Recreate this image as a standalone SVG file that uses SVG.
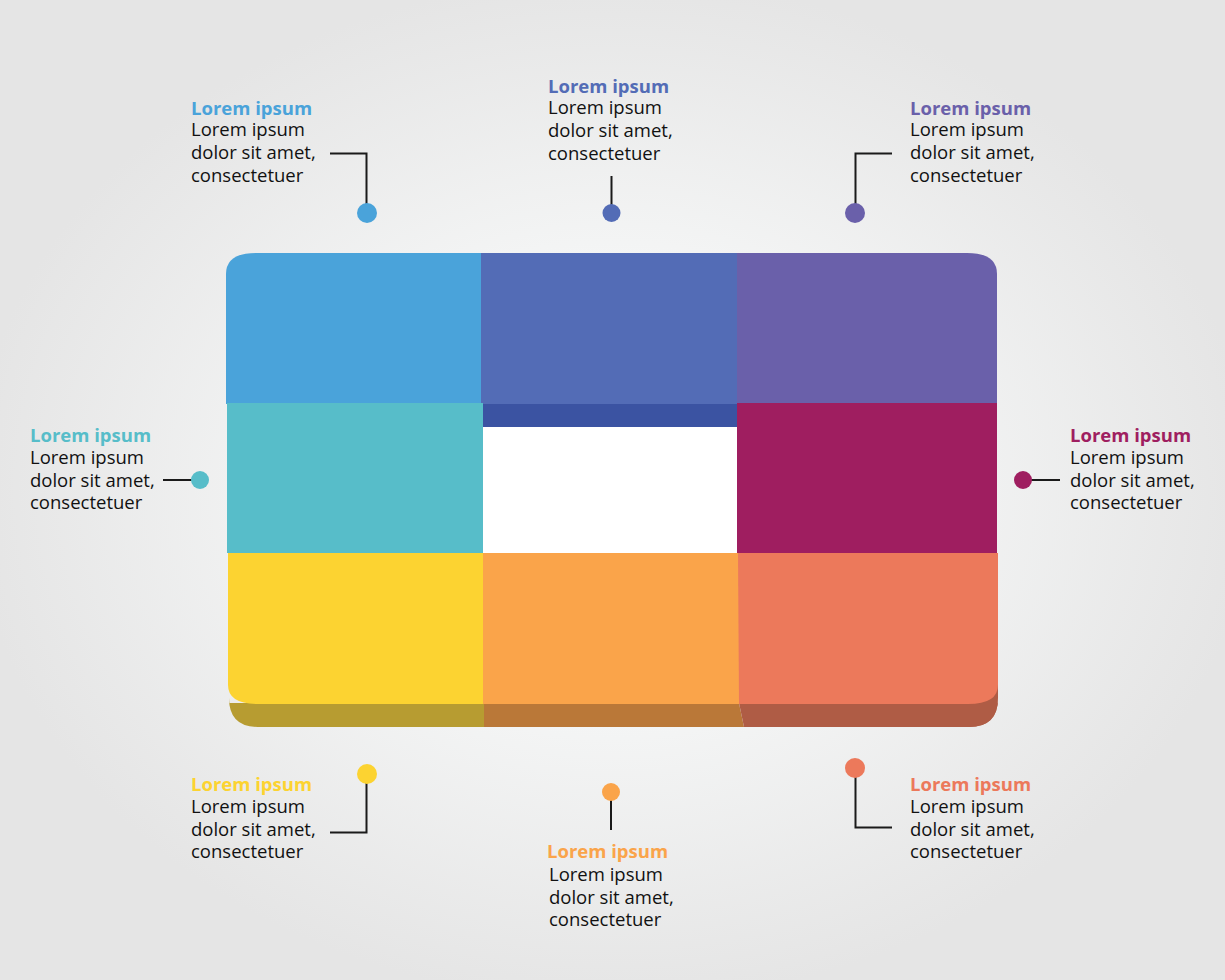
<svg xmlns="http://www.w3.org/2000/svg" width="1225" height="980" viewBox="0 0 1225 980">
<style>
text{font-family:"Open Sans","Noto Sans","DejaVu Sans",sans-serif;font-size:18.5px;fill:#111}
.t{font-weight:700}
.l{fill:none;stroke:#1a1a1a;stroke-width:2}
</style>
<defs>
<radialGradient id="bg" cx="612" cy="490" r="640" gradientUnits="userSpaceOnUse" gradientTransform="translate(0 98) scale(1 .8)">
<stop offset="0" stop-color="#fff"/><stop offset=".45" stop-color="#f4f5f5"/><stop offset="1" stop-color="#e5e5e5"/>
</radialGradient>
</defs>
<rect id="background" width="1225" height="980" fill="url(#bg)"/>
<g id="block">
<rect x="482" y="404" width="256" height="150" fill="#fff"/>
<path d="M229 690V703H484V727H258Q229 727 229 698Z" fill="#b79c31"/>
<path d="M484 703H739L744 727H484Z" fill="#ba7838"/>
<path d="M739 703H998V698Q998 727 969 727H744Z" fill="#af5c45"/>
<path d="M998 680V698Q998 727 969 727H900V700Z" fill="#af5c45"/>
<rect x="482" y="403" width="256" height="24" fill="#3b53a2"/>
<path d="M226 404V274Q226 253 256 253H482V404Z" fill="#4aa3da"/>
<rect x="481" y="253" width="256" height="151" fill="#536cb6"/>
<path d="M737 253H967Q997 253 997 274V404H737Z" fill="#6a60aa"/>
<rect x="227" y="403" width="256" height="150" fill="#57bdc9"/>
<rect x="737" y="403" width="260" height="150" fill="#9f1e60"/>
<path d="M228 553H484V704H258Q228 704 228 685Z" fill="#fcd331"/>
<rect x="483" y="553" width="256" height="151" fill="#faa44a"/>
<path d="M738 553H998V685Q998 704 968 704H739Z" fill="#ec795b"/>
</g>
<g id="connectors">
<path class="l" d="M330 153.500H366.500V205"/>
<path class="l" d="M611.500 176V205"/>
<path class="l" d="M892 153.500H855.500V205"/>
<path class="l" d="M163 480H192"/>
<path class="l" d="M1060 480H1030"/>
<path class="l" d="M330 832.500H366.500V782"/>
<path class="l" d="M611 830V800"/>
<path class="l" d="M892 827.500H855.500V776"/>
</g>
<g id="n1"><circle cx="367" cy="213" r="10" fill="#4aa3da"/><text x="191" y="115" class="t" style="fill:#4aa3da">Lorem ipsum</text><text x="191" y="136">Lorem ipsum</text><text x="191" y="159">dolor sit amet,</text><text x="191" y="182">consectetuer</text></g>
<g id="n2"><circle cx="611.500" cy="213" r="9" fill="#536cb6"/><text x="548" y="93" class="t" style="fill:#536cb6">Lorem ipsum</text><text x="548" y="114">Lorem ipsum</text><text x="548" y="137">dolor sit amet,</text><text x="548" y="160">consectetuer</text></g>
<g id="n3"><circle cx="855" cy="213" r="10" fill="#6a60aa"/><text x="910" y="115" class="t" style="fill:#6a60aa">Lorem ipsum</text><text x="910" y="136">Lorem ipsum</text><text x="910" y="159">dolor sit amet,</text><text x="910" y="182">consectetuer</text></g>
<g id="n4"><circle cx="200" cy="480" r="9" fill="#57bdc9"/><text x="30" y="442" class="t" style="fill:#57bdc9">Lorem ipsum</text><text x="30" y="464">Lorem ipsum</text><text x="30" y="487">dolor sit amet,</text><text x="30" y="509">consectetuer</text></g>
<g id="n5"><circle cx="1023" cy="480" r="9" fill="#9f1e60"/><text x="1070" y="442" class="t" style="fill:#9f1e60">Lorem ipsum</text><text x="1070" y="464">Lorem ipsum</text><text x="1070" y="487">dolor sit amet,</text><text x="1070" y="509">consectetuer</text></g>
<g id="n6"><circle cx="367" cy="774" r="10" fill="#fcd331"/><text x="191" y="791" class="t" style="fill:#fcd331">Lorem ipsum</text><text x="191" y="813">Lorem ipsum</text><text x="191" y="836">dolor sit amet,</text><text x="191" y="858">consectetuer</text></g>
<g id="n7"><circle cx="611" cy="792" r="9" fill="#faa44a"/><text x="547" y="858" class="t" style="fill:#faa44a">Lorem ipsum</text><text x="549" y="881">Lorem ipsum</text><text x="549" y="904">dolor sit amet,</text><text x="549" y="926">consectetuer</text></g>
<g id="n8"><circle cx="855" cy="768" r="10" fill="#ec795b"/><text x="910" y="791" class="t" style="fill:#ec795b">Lorem ipsum</text><text x="910" y="813">Lorem ipsum</text><text x="910" y="836">dolor sit amet,</text><text x="910" y="858">consectetuer</text></g>
</svg>
